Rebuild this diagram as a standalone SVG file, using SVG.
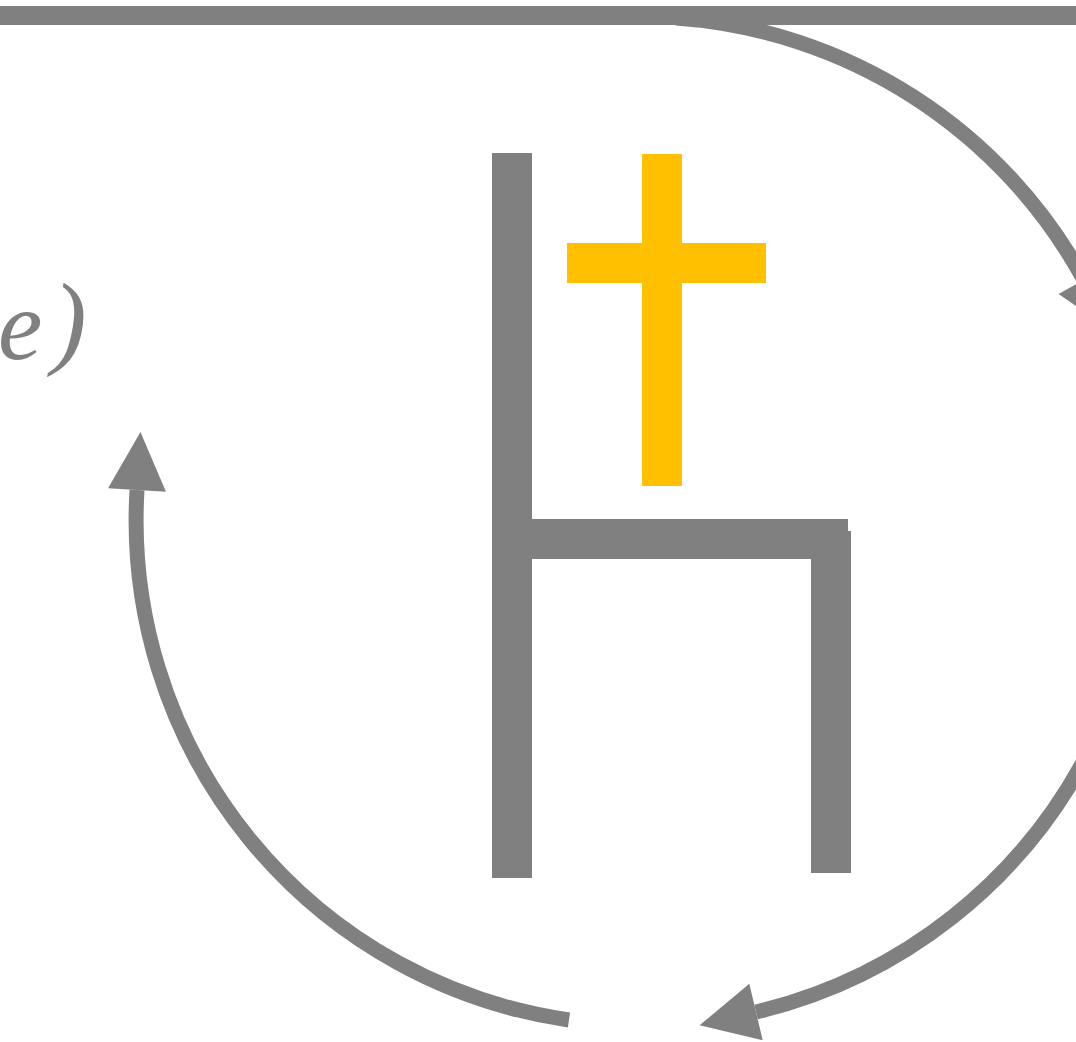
<svg xmlns="http://www.w3.org/2000/svg" width="1076" height="1042" viewBox="0 0 1076 1042">
<style>
.g{fill:#808080}
.y{fill:#FFC000}
.arc{fill:none;stroke:#808080;stroke-width:15}
.t{font-family:"Liberation Serif",serif;font-style:italic;font-size:100px;fill:#808080}
</style>
<defs>
<marker id="ah" markerUnits="userSpaceOnUse" markerWidth="60" markerHeight="60" refX="0" refY="30" orient="auto" viewBox="0 0 60 60" overflow="visible">
<path d="M0,1 L58,30 L0,59 Z" fill="#808080"/>
</marker>
</defs>
<rect width="1076" height="1042" fill="#fff"/>
<g id="connectors">
<rect x="0" y="6" width="1076" height="19" class="g"/>
<path class="arc" d="M676,18 A505,505 0 0 1 1084,280" marker-end="url(#ah)"/>
<path class="arc" d="M1090,749 A505,505 0 0 1 756,1012" marker-end="url(#ah)"/>
<path class="arc" d="M569,1020 A505,505 0 0 1 137,490" marker-end="url(#ah)"/>
</g>
<g id="label">
<text class="t" y="359"><tspan x="-2">e</tspan><tspan x="52" y="355" font-size="104">)</tspan></text>
</g>
<g id="h-shape">
<rect x="492" y="153" width="40" height="725" class="g"/>
<rect x="532" y="519" width="316" height="40" class="g"/>
<rect x="811" y="531" width="40" height="342" class="g"/>
<rect x="811" y="519" width="37" height="20" class="g"/>
</g>
<g id="cross">
<rect x="642" y="154" width="40" height="332" class="y"/>
<rect x="567" y="243" width="199" height="40" class="y"/>
</g>
</svg>
